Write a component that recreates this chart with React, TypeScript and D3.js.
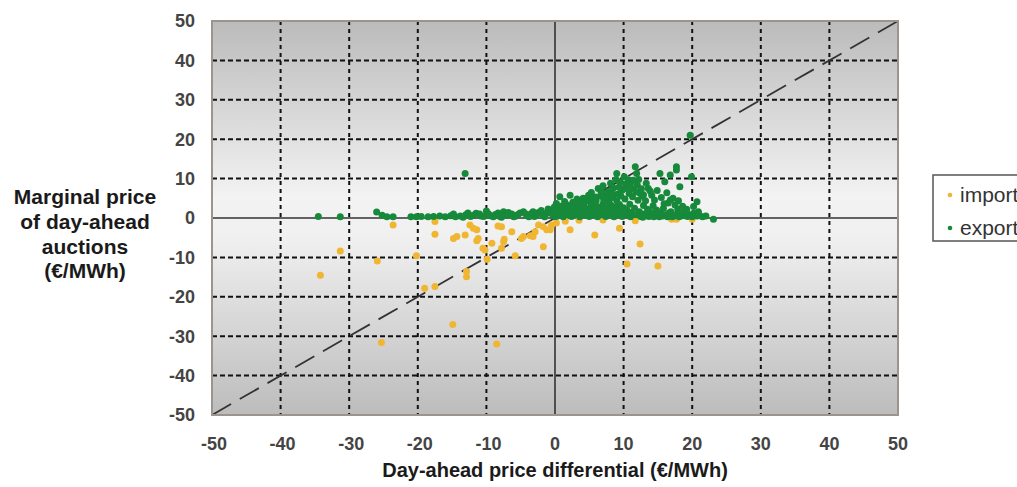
import React from "react";
import * as d3 from "d3";

// Axis ticks (both axes share the same range)
const xTicks = [-50, -40, -30, -20, -10, 0, 10, 20, 30, 40, 50];
const yTicks = [-50, -40, -30, -20, -10, 0, 10, 20, 30, 40, 50];

const seriesNames = ["import", "export"];
const seriesColors = ["#f0b632", "#17893a"];

// [price differential, marginal price] for hours with imports
const importPoints: [number, number][] = [
  [-34.2, -14.5], [-31.3, -8.4], [-25.9, -10.9], [-25.3, -31.6], [-23.6, -1.8],
  [-20.2, -9.6], [-19.0, -17.8], [-17.5, -17.4], [-17.5, -4.1], [-17.5, -0.9],
  [-14.9, -27.0], [-14.8, -5.2], [-14.3, -4.7], [-13.1, -4.3], [-12.9, -14.9],
  [-12.9, -13.6], [-12.4, -1.8], [-11.9, -2.6], [-11.4, -3.0], [-11.4, -5.8],
  [-11.2, -5.2], [-10.5, -7.7], [-10.2, -8.1], [-9.9, -10.5], [-9.2, -6.4],
  [-8.5, -32.0], [-8.3, -2.0], [-7.8, -7.7], [-7.8, -2.2], [-7.5, -6.0],
  [-7.4, -5.4], [-6.3, -3.5], [-5.8, -9.6], [-4.9, -5.2], [-4.6, -4.7],
  [-3.6, -4.5], [-3.2, -4.7], [-2.9, -3.5], [-2.4, -1.8], [-1.7, -7.3],
  [-1.7, -2.2], [-1.2, -3.0], [-0.7, -3.0], [-0.5, -1.8], [0.2, -1.3],
  [1.5, -0.8], [2.2, -3.0], [3.5, -0.6], [5.8, -4.3], [7.0, -0.5],
  [9.4, -2.6], [10.5, -11.7], [11.7, -0.7], [12.4, -6.6], [15.0, -12.2],
  [17.0, -0.3], [17.7, -0.3], [20.0, -0.3],
];

// [price differential, marginal price] for hours with exports
const exportPoints: [number, number][] = [
  // thin band along zero, negative differentials
  [-34.5, 0.4], [-31.3, 0.3], [-26.0, 1.5], [-25.2, 0.7], [-24.5, 0.3],
  [-23.6, 0.3], [-21.0, 0.3], [-20.2, 0.3], [-19.5, 0.4], [-18.5, 0.3],
  [-17.7, 0.4], [-16.8, 0.5], [-16.0, 0.3], [-15.2, 0.6], [-14.5, 0.3],
  [-13.8, 0.5], [-13.0, 0.8], [-12.3, 0.4], [-11.5, 1.2], [-10.8, 0.5],
  [-10.0, 1.8], [-9.4, 0.6], [-8.7, 0.9], [-8.0, 0.4], [-7.5, 1.6],
  [-7.0, 0.7], [-6.3, 1.0], [-5.7, 0.5], [-5.1, 1.3], [-4.6, 1.6],
  [-4.0, 0.6], [-3.5, 1.1], [-3.0, 0.4], [-2.4, 1.4], [-1.8, 0.7],
  [-1.2, 1.2], [-0.7, 2.0], [-0.3, 0.6], [-13.1, 11.3],
  [-14.8, 1.0], [-13.4, 0.2], [-12.7, 1.3], [-11.9, 0.7], [-11.0, 1.0],
  [-10.4, 0.4], [-9.7, 1.1], [-9.0, 0.3], [-8.3, 1.3], [-7.8, 0.2],
  [-6.8, 1.4], [-6.0, 0.3], [-5.4, 0.9], [-4.3, 1.1], [-3.8, 0.3],
  [-3.2, 1.6], [-2.7, 0.8], [-2.0, 1.9], [-1.5, 0.3], [-1.0, 2.3],
  [-0.5, 1.2], [-0.1, 2.8],
  // main cloud, positive differentials
  [0.2, 0.4], [0.2, 1.3], [0.3, 2.4], [0.2, 3.7], [0.7, 0.8], [0.7, 1.9],
  [0.8, 3.0], [0.7, 5.4], [1.2, 0.3], [1.3, 1.4], [1.2, 2.6], [1.4, 4.2],
  [1.8, 0.9], [1.9, 2.0], [1.8, 3.3], [2.2, 5.8], [2.4, 0.4], [2.5, 1.6],
  [2.4, 2.8], [2.6, 4.0], [3.0, 1.0], [3.1, 2.2], [3.0, 3.4], [3.2, 4.8],
  [3.6, 0.3], [3.7, 1.5], [3.6, 2.7], [3.8, 3.9], [4.1, 5.0], [4.3, 0.8],
  [4.4, 2.0], [4.2, 3.2], [4.6, 4.4], [4.9, 5.8], [5.0, 0.4], [5.0, 1.5],
  [5.1, 2.6], [5.2, 3.8], [5.5, 5.0], [5.6, 0.9], [5.7, 2.1], [5.8, 3.2],
  [6.0, 4.4], [6.3, 7.5], [6.2, 0.3], [6.3, 1.6], [6.4, 2.8], [6.6, 5.6],
  [6.8, 0.8], [6.9, 2.0], [7.0, 3.5], [7.1, 4.6], [7.3, 6.3], [7.4, 0.4],
  [7.5, 1.4], [7.6, 2.6], [7.8, 6.7], [7.9, 4.0], [8.0, 0.9], [8.1, 2.1],
  [8.2, 3.2], [8.4, 5.2], [8.5, 7.6], [8.6, 0.3], [8.7, 1.5], [8.8, 2.7],
  [9.0, 11.3], [9.0, 4.4], [9.1, 6.0], [9.2, 0.8], [9.3, 2.0], [9.5, 9.2],
  [9.4, 3.4], [9.7, 7.0], [9.8, 0.4], [9.9, 1.4], [10.0, 7.5], [10.0, 2.6],
  [10.2, 4.8], [10.3, 8.6], [10.4, 0.9], [10.5, 2.0], [10.7, 9.7], [10.8, 6.2],
  [10.9, 3.5], [11.0, 0.3], [11.1, 1.4], [11.4, 9.6], [11.5, 7.3], [11.6, 2.5],
  [11.7, 13.0], [11.9, 11.3], [11.8, 0.8], [12.0, 8.4], [12.1, 4.5], [12.4, 6.3],
  [12.3, 1.6], [12.5, 0.4], [12.7, 5.5], [12.9, 3.2], [13.0, 1.0], [13.2, 4.4],
  [13.6, 7.5], [13.5, 2.2], [13.7, 0.4], [14.1, 5.8], [14.0, 1.4], [14.3, 3.1],
  [14.6, 0.8], [14.8, 2.0], [15.3, 11.3], [15.2, 0.3], [15.4, 1.3], [15.8, 2.5],
  [16.0, 9.2], [16.1, 0.8], [16.5, 3.8], [16.8, 10.9], [16.9, 1.6], [17.2, 5.0],
  [17.5, 0.6], [17.7, 13.0], [17.7, 12.2], [17.9, 2.2], [18.2, 7.9], [18.4, 0.9],
  [18.8, 1.5], [19.3, 0.4], [19.7, 21.0], [19.9, 10.5], [20.2, 2.9], [20.7, 4.1],
  [20.7, 0.5], [20.2, 1.2], [21.5, 0.3], [23.1, -0.3],
  [12.8, 0.2], [13.3, 0.6], [14.4, 0.3], [15.0, 1.0], [15.7, 0.5], [16.4, 0.3],
  [16.6, 1.3], [17.1, 0.3], [17.8, 1.0], [18.1, 0.3], [18.6, 0.6], [19.0, 1.0],
  [19.6, 0.8], [20.0, 0.3], [20.9, 1.6], [21.0, 0.8], [22.0, 0.5],
  [5.3, 6.5], [5.9, 5.3], [6.7, 6.8], [7.0, 8.2], [7.6, 5.4], [8.1, 8.8],
  [8.3, 6.2], [8.9, 9.8], [9.3, 7.8], [9.6, 5.6], [10.1, 10.5], [10.6, 7.4],
  [11.0, 8.6], [11.3, 5.4], [11.8, 6.6], [12.2, 9.8], [12.6, 7.4], [12.9, 5.9],
  [13.3, 8.8], [13.9, 6.8], [14.5, 4.6], [14.9, 7.0], [15.5, 5.2], [15.9, 3.6],
  [16.3, 6.4], [16.8, 4.6], [17.5, 3.3], [18.0, 4.4], [18.6, 3.0], [19.2, 2.2],
];

const W = 1017;
const H = 487;
const plot = { left: 212, right: 898, top: 21, bottom: 415 };

export default function App() {
  const x = d3.scaleLinear().domain([-50, 50]).range([plot.left, plot.right]);
  const y = d3.scaleLinear().domain([-50, 50]).range([plot.bottom, plot.top]);
  const font = "'Liberation Sans', Arial, sans-serif";

  const series = [importPoints, exportPoints];

  return (
    <svg
      width={W}
      height={H}
      style={{ position: "absolute", left: 0, top: 0, background: "#fff" }}
    >
      <defs>
        <linearGradient id="plotBg" x1="0" y1="0" x2="0" y2="1">
          <stop offset="0" stopColor="#bbbbbb" />
          <stop offset="0.45" stopColor="#f3f3f3" />
          <stop offset="0.55" stopColor="#f0f0f0" />
          <stop offset="1" stopColor="#bcbcbc" />
        </linearGradient>
        <clipPath id="plotClip">
          <rect
            x={plot.left}
            y={plot.top}
            width={plot.right - plot.left}
            height={plot.bottom - plot.top}
          />
        </clipPath>
      </defs>

      <rect
        x={plot.left}
        y={plot.top}
        width={plot.right - plot.left}
        height={plot.bottom - plot.top}
        fill="url(#plotBg)"
      />

      {/* dashed grid */}
      {xTicks
        .filter((t) => t !== 0 && t !== -50 && t !== 50)
        .map((t) => (
          <line
            key={"gx" + t}
            x1={x(t)}
            x2={x(t)}
            y1={plot.top}
            y2={plot.bottom}
            stroke="#111"
            strokeWidth={2}
            strokeDasharray="4 4"
          />
        ))}
      {yTicks
        .filter((t) => t !== 0 && t !== -50 && t !== 50)
        .map((t) => (
          <line
            key={"gy" + t}
            x1={plot.left}
            x2={plot.right}
            y1={y(t)}
            y2={y(t)}
            stroke="#111"
            strokeWidth={2}
            strokeDasharray="5 3"
          />
        ))}

      {/* zero axes */}
      <line x1={x(0)} x2={x(0)} y1={plot.top} y2={plot.bottom} stroke="#333" strokeWidth={1.6} />
      <line x1={plot.left} x2={plot.right} y1={y(0)} y2={y(0)} stroke="#333" strokeWidth={1.6} />

      {/* y = x reference line */}
      <line
        x1={x(-50)}
        y1={y(-50)}
        x2={x(50)}
        y2={y(50)}
        stroke="#333"
        strokeWidth={1.8}
        strokeDasharray="22 10"
        clipPath="url(#plotClip)"
      />

      {/* points */}
      {series.map((pts, si) => (
        <g key={seriesNames[si]} fill={seriesColors[si]}>
          {pts.map((p, i) => (
            <circle key={i} cx={x(p[0])} cy={y(p[1])} r={3.5} />
          ))}
        </g>
      ))}

      <rect
        x={plot.left}
        y={plot.top}
        width={plot.right - plot.left}
        height={plot.bottom - plot.top}
        fill="none"
        stroke="#9b948f"
        strokeWidth={2}
      />

      {/* tick labels */}
      {yTicks.map((t) => (
        <text
          key={"ly" + t}
          x={195}
          y={y(t)}
          dy="0.36em"
          textAnchor="end"
          fontFamily={font}
          fontWeight="bold"
          fontSize={18}
          fill="#444"
        >
          {t}
        </text>
      ))}
      {xTicks.map((t) => (
        <text
          key={"lx" + t}
          x={x(t) + (t < 0 ? 2 : 0)}
          y={450}
          textAnchor="middle"
          fontFamily={font}
          fontWeight="bold"
          fontSize={18}
          fill="#444"
        >
          {t}
        </text>
      ))}

      {/* axis titles */}
      <text
        x={x(0)}
        y={477}
        textAnchor="middle"
        fontFamily={font}
        fontWeight="bold"
        fontSize={20}
        fill="#1a1a1a"
      >
        Day-ahead price differential (€/MWh)
      </text>
      <g fontFamily={font} fontWeight="bold" fontSize={21} fill="#1a1a1a" textAnchor="middle">
        <text x={85} y={204}>Marginal price</text>
        <text x={85} y={229}>of day-ahead</text>
        <text x={85} y={254}>auctions</text>
        <text x={85} y={278}>(€/MWh)</text>
      </g>

      {/* legend */}
      <rect x={933} y={175} width={120} height={66} fill="#fff" stroke="#555" strokeWidth={1.5} />
      {seriesNames.map((name, i) => (
        <g key={"lg" + name}>
          <circle cx={950} cy={195 + i * 33} r={2.3} fill={seriesColors[i]} />
          <text
            x={960}
            y={195 + i * 33}
            dy="0.35em"
            fontFamily={font}
            fontSize={21}
            fill="#333"
          >
            {name}
          </text>
        </g>
      ))}
    </svg>
  );
}
